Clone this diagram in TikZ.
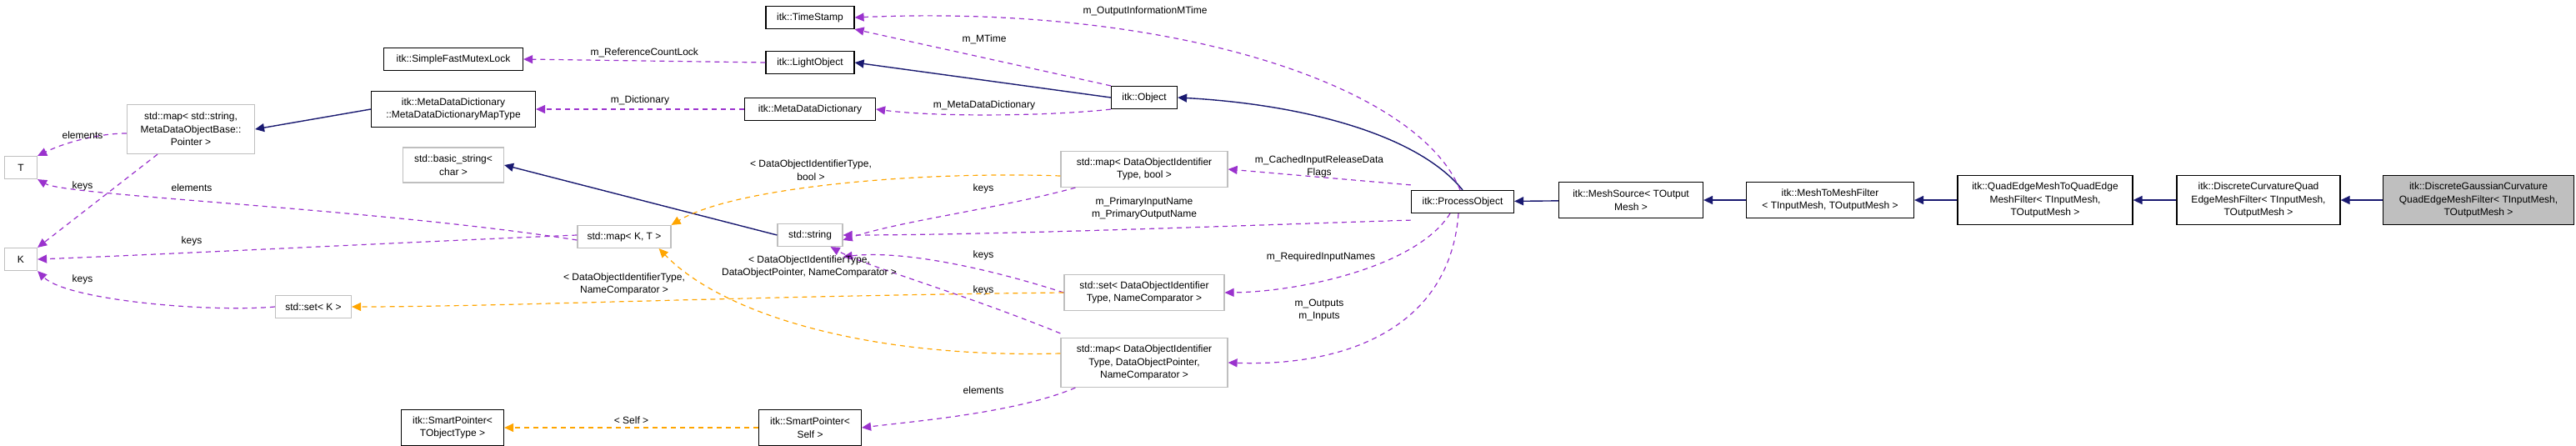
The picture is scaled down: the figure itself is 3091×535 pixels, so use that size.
\documentclass[tikz,border=0pt]{standalone}
\usepackage{fontspec}
\setmainfont{Liberation Sans}
\usetikzlibrary{arrows.meta}
\definecolor{inh}{HTML}{191970}
\definecolor{use}{HTML}{9A32CD}
\definecolor{tpl}{HTML}{FFA500}
\definecolor{gbd}{HTML}{BFBFBF}
\begin{document}
\begin{tikzpicture}[x=1pt,y=-1pt,
  font=\fontsize{12}{15.5}\selectfont,
  box/.style={draw=black,line width=1.2pt,fill=white,align=center,inner sep=0pt,minimum width=#1},
  gbox/.style={draw=gbd,line width=1.2pt,fill=white,align=center,inner sep=0pt,minimum width=#1},
  inh/.style={draw=inh,line width=1.4pt,-{Triangle[length=11pt,width=10pt,fill=inh]}},
  use/.style={draw=use,line width=1.2pt,dash pattern=on 6pt off 5pt,-{Triangle[length=11pt,width=10pt,fill=use]}},
  tpl/.style={draw=tpl,line width=1.2pt,dash pattern=on 6pt off 5pt,-{Triangle[length=11pt,width=10pt,fill=tpl]}},
  lbl/.style={align=center,inner sep=0pt}]
\useasboundingbox (0,0) rectangle (3091,535);
% nodes
\node[box=106,minimum height=27] (ts) at (972,21) {itk::TimeStamp};
\node[box=106,minimum height=27] (lo) at (972,75) {itk::LightObject};
\node[box=157,minimum height=27] (mdd) at (972,131) {itk::MetaDataDictionary};
\node[box=79,minimum height=27] (obj) at (1373,117) {itk::Object};
\node[box=167,minimum height=27] (sfml) at (544,71) {itk::SimpleFastMutexLock};
\node[box=197,minimum height=43] (mt) at (544,131) {itk::MetaDataDictionary\\::MetaDataDictionaryMapType};
\node[gbox=153,minimum height=59] (mss) at (229,155) {std::map\textless{} std::string,\\MetaDataObjectBase::\\Pointer \textgreater};
\node[gbox=39,minimum height=27] (T) at (25,201) {T};
\node[gbox=39,minimum height=27] (K) at (25,311) {K};
\node[gbox=121,minimum height=42] (bs) at (544,198) {std::basic\_string\textless\\char \textgreater};
\node[gbox=112,minimum height=27] (mkt) at (749,284) {std::map\textless{} K, T \textgreater};
\node[gbox=91,minimum height=27] (sk) at (376,368) {std::set\textless{} K \textgreater};
\node[box=123,minimum height=43] (spt) at (543,513) {itk::SmartPointer\textless\\TObjectType \textgreater};
\node[gbox=78,minimum height=27] (str) at (972,282) {std::string};
\node[gbox=200,minimum height=43] (mb) at (1373,203) {std::map\textless{} DataObjectIdentifier\\Type, bool \textgreater};
\node[gbox=192,minimum height=43] (sd) at (1373,351) {std::set\textless{} DataObjectIdentifier\\Type, NameComparator \textgreater};
\node[gbox=200,minimum height=59] (md) at (1373,435) {std::map\textless{} DataObjectIdentifier\\Type, DataObjectPointer,\\NameComparator \textgreater};
\node[box=123,minimum height=43] (sps) at (972,513) {itk::SmartPointer\textless\\Self \textgreater};
\node[box=123,minimum height=27] (po) at (1755,242) {itk::ProcessObject};
\node[box=173,minimum height=43] (ms) at (1957,240) {itk::MeshSource\textless{} TOutput\\Mesh \textgreater};
\node[box=201,minimum height=43] (mm) at (2196,240) {itk::MeshToMeshFilter\\\textless{} TInputMesh, TOutputMesh \textgreater};
\node[box=210,minimum height=59] (qe) at (2454,240) {itk::QuadEdgeMeshToQuadEdge\\MeshFilter\textless{} TInputMesh,\\TOutputMesh \textgreater};
\node[box=196,minimum height=59] (dc) at (2710,240) {itk::DiscreteCurvatureQuad\\EdgeMeshFilter\textless{} TInputMesh,\\TOutputMesh \textgreater};
\node[box=229,minimum height=59,fill=gbd] (dg) at (2974,240) {itk::DiscreteGaussianCurvature\\QuadEdgeMeshFilter\textless{} TInputMesh,\\TOutputMesh \textgreater};
% inheritance
\draw[inh] (dg) -- (dc);
\draw[inh] (dc) -- (qe);
\draw[inh] (qe) -- (mm);
\draw[inh] (mm) -- (ms);
\draw[inh] (ms) -- (po);
\draw[inh] (po.north) .. controls (1700,160) and (1560,125) .. (obj.east);
\draw[inh] (obj.west) -- (lo.east);
\draw[inh] (mt.west) -- (mss.east);
\draw[inh] (str.west) -- (bs.east);
% usage
\draw[use] (lo.west) -- node[lbl,above=4pt]{m\_ReferenceCountLock} (sfml.east);
\draw[use] (mdd.west) -- node[lbl,above=4pt]{m\_Dictionary} (mt.east);
\draw[use] (obj.north west) -- (ts.south east);
\node[lbl] (l1) at (1181,47) {m\_MTime};
\draw[use] (obj.south west) .. controls (1250,140) and (1120,140) .. (mdd.east);
\node[lbl] (l2) at (1181,126) {m\_MetaDataDictionary};
\draw[use] ([xshift=-3pt]po.north) .. controls (1700,100) and (1400,5) .. (ts.east);
\node[lbl] (l3) at (1374,13) {m\_OutputInformationMTime};
\draw[use] ([yshift=6pt]po.north west) -- (mb.east);
\node[lbl] (l4) at (1583,200) {m\_CachedInputReleaseData\\Flags};
\draw[use] ([yshift=-8pt]po.south west) .. controls (1500,270) and (1200,282) .. (str.east);
\node[lbl] (l5) at (1373,250) {m\_PrimaryInputName\\m\_PrimaryOutputName};
\draw[use] ([xshift=-15pt]po.south) .. controls (1700,320) and (1560,350) .. (sd.east);
\node[lbl] (l6) at (1585,308) {m\_RequiredInputNames};
\draw[use] ([xshift=-5pt]po.south) .. controls (1740,390) and (1620,440) .. (md.east);
\node[lbl] (l7) at (1583,372) {m\_Outputs\\m\_Inputs};
\draw[use] ([xshift=18pt]mb.south west) .. controls (1200,250) and (1080,265) .. ([yshift=-6pt]str.east);
\node[lbl] (k1) at (1180,226) {keys};
\draw[use] (sd.west) .. controls (1180,320) and (1080,300) .. ([yshift=-12pt]str.south east);
\node[lbl] (k2) at (1180,306) {keys};
\draw[use] ([yshift=5pt]md.north west) .. controls (1150,350) and (1040,320) .. ([xshift=-15pt]str.south east);
\node[lbl] (k3) at (1180,348) {keys};
\draw[use] ([xshift=18pt]md.south west) .. controls (1220,495) and (1100,505) .. (sps.east);
\node[lbl] (e1) at (1180,468) {elements};
\draw[use] ([yshift=-5pt]mss.west) .. controls (120,160) and (80,170) .. (T.north east);
\node[lbl] (e2) at (99,162) {elements};
\draw[use] ([xshift=-40pt]mss.south) -- (K.north east);
\node[lbl] (k4) at (99,223) {keys};
\draw[use] ([yshift=-4pt]mkt.west) .. controls (450,250) and (80,235) .. (T.south east);
\node[lbl] (e3) at (230,225) {elements};
\draw[use] ([yshift=2pt]mkt.west) .. controls (500,290) and (200,305) .. (K.east);
\node[lbl] (k5) at (230,289) {keys};
\draw[use] (sk.west) .. controls (250,375) and (80,360) .. (K.south east);
\node[lbl] (k6) at (99,335) {keys};
% templates
\draw[tpl] ([yshift=-8pt]mb.west) .. controls (1100,205) and (880,225) .. (mkt.north east);
\node[lbl] (t1) at (973,204) {\textless{} DataObjectIdentifierType,\\bool \textgreater};
\draw[tpl] ([yshift=11pt]md.west) .. controls (1050,430) and (870,380) .. ([xshift=-15pt]mkt.south east);
\node[lbl] (t2) at (971,320) {\textless{} DataObjectIdentifierType,\\DataObjectPointer, NameComparator \textgreater};
\draw[tpl] (sd.west) .. controls (900,355) and (600,368) .. (sk.east);
\node[lbl] (t3) at (749,341) {\textless{} DataObjectIdentifierType,\\NameComparator \textgreater};
\draw[tpl] (sps.west) -- node[lbl,above=4pt]{\textless{} Self \textgreater} (spt.east);
\end{tikzpicture}
\end{document}
